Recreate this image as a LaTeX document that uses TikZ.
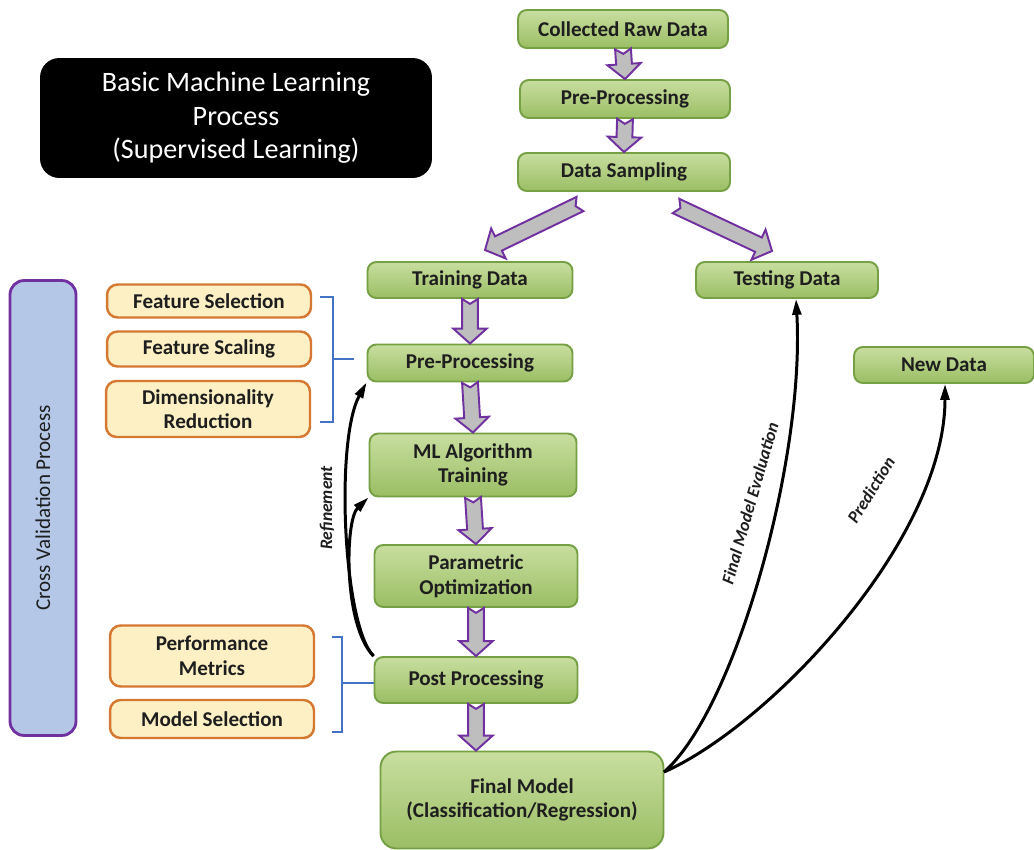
\documentclass[tikz,border=0pt]{standalone}
\usepackage{fontspec}
\setmainfont{Carlito}
\usepackage{xcolor}
\usetikzlibrary{positioning,arrows.meta,calc}
\definecolor{greentop}{RGB}{200,222,160}
\definecolor{greenbot}{RGB}{155,190,100}
\definecolor{greenline}{RGB}{118,160,68}
\definecolor{creamfill}{RGB}{253,240,196}
\definecolor{orangeline}{RGB}{213,120,50}
\definecolor{cvfill}{RGB}{180,199,231}
\definecolor{cvline}{RGB}{112,48,160}
\definecolor{arrowpurple}{RGB}{112,48,160}
\definecolor{arrowgray}{RGB}{190,190,190}
\definecolor{bracketblue}{RGB}{68,114,196}
\definecolor{inkgray}{RGB}{30,30,30}

% block arrow with notched tail, from #1 to #2
\newcommand{\flowarrow}[2]{%
  \filldraw[flowarr]
    ($(#1)!4.5pt!90:(#2)$) -- ($(#1)!2.8pt!(#2)$) -- ($(#1)!4.5pt!-90:(#2)$)
    -- ($(#2)!8.5pt!(#1)!4.5pt!90:(#1)$) -- ($(#2)!8.5pt!(#1)!9.5pt!90:(#1)$) -- (#2)
    -- ($(#2)!8.5pt!(#1)!9.5pt!-90:(#1)$) -- ($(#2)!8.5pt!(#1)!4.5pt!-90:(#1)$) -- cycle;}

\begin{document}
\begin{tikzpicture}[x=0.02cm, y=-0.02cm,
    greenbox/.style={draw=greenline, line width=1.1pt, rounded corners=5pt, top color=greentop, bottom color=greenbot, text=inkgray, font=\bfseries\fontsize{12}{14}\selectfont, align=center, inner sep=0pt},
    yellowbox/.style={draw=orangeline, line width=1.4pt, rounded corners=6pt, fill=creamfill, text=inkgray, font=\bfseries\fontsize{12}{14}\selectfont, align=center, inner sep=0pt, minimum width=4.08cm},
    flowarr/.style={draw=arrowpurple, line width=1.1pt, fill=arrowgray, line join=miter},
    loopline/.style={line width=1.7pt, -{Triangle[length=9pt,width=5pt]}},
    bracket/.style={draw=bracketblue, line width=1.1pt},
    lbl/.style={font=\bfseries\itshape\fontsize{10}{12}\selectfont, text=inkgray}]
    \useasboundingbox (0,0) rectangle (1034,849);

    % Title
    \node[fill=black, rounded corners=11pt, minimum width=7.84cm, minimum height=2.4cm, text=white, align=center,
          font=\fontsize{16}{19}\selectfont] (title) at (236,118) {Basic Machine Learning\\Process\\(Supervised Learning)};

    % Top column
    \node[greenbox, minimum width=4.2cm, minimum height=0.76cm] (raw) at (623,29) {Collected Raw Data};
    \node[greenbox, minimum width=4.2cm, minimum height=0.76cm] (pre1) at (625,99) {Pre-Processing};
    \node[greenbox, minimum width=4.24cm, minimum height=0.76cm] (samp) at (624,172) {Data Sampling};

    % Split
    \node[greenbox, minimum width=4.1cm, minimum height=0.72cm] (train) at (470,280) {Training Data};
    \node[greenbox, minimum width=3.64cm, minimum height=0.72cm] (test) at (787,280) {Testing Data};
    \node[greenbox, minimum width=3.6cm, minimum height=0.72cm] (newd) at (944,365) {New Data};

    % Training column
    \node[greenbox, minimum width=4.1cm, minimum height=0.74cm] (pre2) at (470,363) {Pre-Processing};
    \node[greenbox, minimum width=4.14cm, minimum height=1.26cm] (ml) at (473,465) {ML Algorithm\\Training};
    \node[greenbox, minimum width=4.06cm, minimum height=1.24cm] (param) at (476,576) {Parametric\\Optimization};
    \node[greenbox, minimum width=4.06cm, minimum height=0.92cm] (post) at (476,680) {Post Processing};
    \node[greenbox, minimum width=5.66cm, minimum height=1.94cm, rounded corners=9pt] (final) at (522,800) {Final Model\\(Classification/Regression)};

    % Left side
    \node[draw=cvline, line width=1.6pt, fill=cvfill, rounded corners=8pt, minimum width=1.32cm, minimum height=9.1cm] (cv) at (43,508) {};
    \node[rotate=90, font=\fontsize{12}{14}\selectfont, text=inkgray] (cvtext) at (cv.center) {Cross Validation Process};
    \node[yellowbox, minimum height=0.66cm] (fsel) at (209,301) {Feature Selection};
    \node[yellowbox, minimum height=0.7cm] (fscale) at (209,349) {Feature Scaling};
    \node[yellowbox, minimum height=1.12cm] (dimred) at (208,409) {Dimensionality\\Reduction};
    \node[yellowbox, minimum height=1.22cm] (perf) at (212,656) {Performance\\Metrics};
    \node[yellowbox, minimum height=0.76cm] (msel) at (212,719) {Model Selection};

    % Brackets
    \draw[bracket] (320,297) -- (333,297) -- (333,422) -- (320,422);
    \draw[bracket, shorten >=7pt] (333,359) -- (pre2.west |- 0,359);
    \draw[bracket] (332,637) -- (342,637) -- (342,732) -- (332,732);
    \draw[bracket] (342,683) -- (post.west |- 0,683);

    % Block arrows
    \flowarrow{raw.south}{pre1.north}
    \flowarrow{pre1.south}{samp.north}
    \coordinate (splitL) at (580,204);
    \coordinate (tipL) at (485,250);
    \coordinate (splitR) at (676,206);
    \coordinate (tipR) at (772,251);
    \flowarrow{splitL}{tipL}
    \flowarrow{splitR}{tipR}
    \flowarrow{train.south}{pre2.north}
    \flowarrow{pre2.south}{ml.north}
    \flowarrow{ml.south}{param.north}
    \flowarrow{param.south}{post.north}
    \coordinate (finaltop) at (post.south |- final.north);
    \flowarrow{post.south}{finaltop}

    % Refinement loops
    \draw[loopline] (post.north west) .. controls (343,625) and (335,440) .. (pre2.south west);
    \draw[loopline] (post.north west) .. controls (343,625) and (345,520) .. (ml.south west);
    \node[lbl, rotate=90] (refine) at (327,508) {Refinement};

    % Evaluation and prediction
    \draw[loopline] (664,772) .. controls (735,710) and (805,460) .. (test.south -| 796,0);
    \draw[loopline] (664,772) .. controls (770,725) and (945,540) .. (newd.south -| 945,0);
    \node[lbl, rotate=74] (evallbl) at (750,503) {Final Model Evaluation};
    \node[lbl, rotate=58] (predlbl) at (871,490) {Prediction};
\end{tikzpicture}
\end{document}
